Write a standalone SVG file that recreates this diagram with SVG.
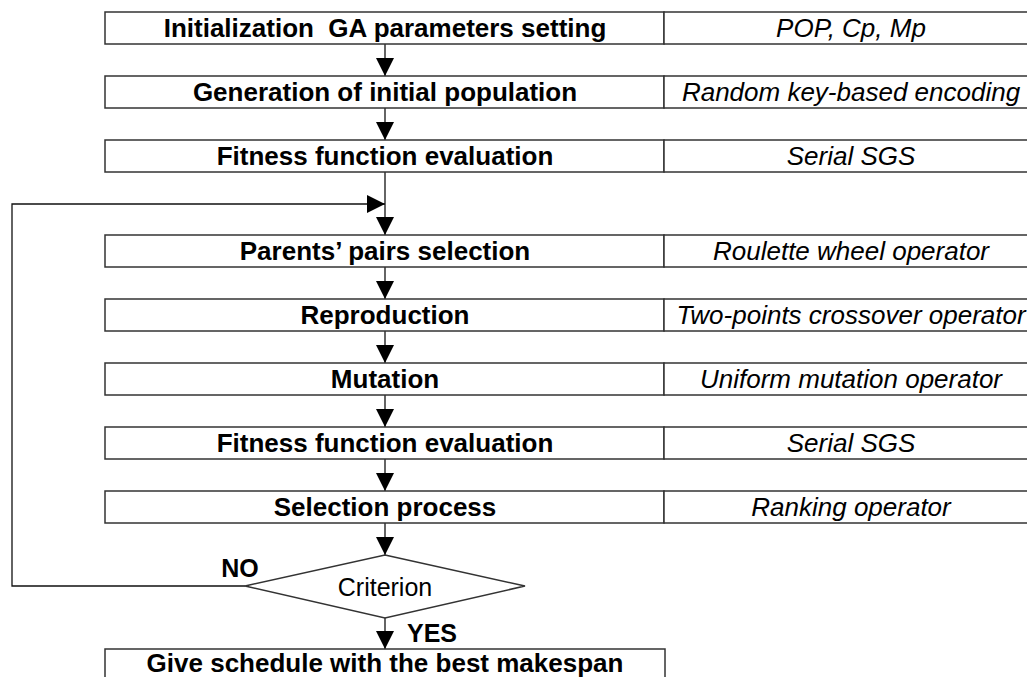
<svg xmlns="http://www.w3.org/2000/svg" width="1027" height="677" viewBox="0 0 1027 677">
<style>
.box{fill:#fff;stroke:#333;stroke-width:1.5}
.ln{fill:none;stroke:#111;stroke-width:1.3}
.b{font-family:"Liberation Sans",Arial,sans-serif;font-weight:bold;font-size:26px;fill:#000;text-anchor:middle}
.i{font-family:"Liberation Sans",Arial,sans-serif;font-style:italic;font-size:26px;fill:#000;text-anchor:middle}
.r{font-family:"Liberation Sans",Arial,sans-serif;font-size:25px;fill:#000;text-anchor:middle}
.lb{font-family:"Liberation Sans",Arial,sans-serif;font-weight:bold;font-size:25px;fill:#000;text-anchor:middle}
</style>
<defs>
<marker id="ah" viewBox="0 0 18 18" refX="18" refY="9" markerWidth="18" markerHeight="18" markerUnits="userSpaceOnUse" orient="auto">
<path d="M0,0 L18,9 L0,18 Z" fill="#000"/>
</marker>
</defs>
<rect width="1027" height="677" fill="#fff"/>
<g id="connectors">
<line class="ln" x1="385" y1="44" x2="385" y2="76" marker-end="url(#ah)"/>
<line class="ln" x1="385" y1="108" x2="385" y2="140" marker-end="url(#ah)"/>
<line class="ln" x1="385" y1="172" x2="385" y2="235" marker-end="url(#ah)"/>
<polyline class="ln" points="245,586 12,586 12,204 385,204" marker-end="url(#ah)"/>
<line class="ln" x1="385" y1="267" x2="385" y2="299" marker-end="url(#ah)"/>
<line class="ln" x1="385" y1="331" x2="385" y2="363" marker-end="url(#ah)"/>
<line class="ln" x1="385" y1="395" x2="385" y2="427" marker-end="url(#ah)"/>
<line class="ln" x1="385" y1="459" x2="385" y2="491" marker-end="url(#ah)"/>
<line class="ln" x1="385" y1="523" x2="385" y2="555" marker-end="url(#ah)"/>
<line class="ln" x1="385" y1="618" x2="385" y2="649" marker-end="url(#ah)"/>
</g>
<g id="n1"><rect class="box" x="105" y="12" width="559" height="32"/><rect class="box" x="664" y="12" width="380" height="32"/>
<text class="b" x="385" y="37" xml:space="preserve">Initialization  GA parameters setting</text><text class="i" x="851" y="37">POP, Cp, Mp</text></g>
<g id="n2"><rect class="box" x="105" y="76" width="559" height="32"/><rect class="box" x="664" y="76" width="380" height="32"/>
<text class="b" x="385" y="101">Generation of initial population</text><text class="i" x="851" y="101">Random key-based encoding</text></g>
<g id="n3"><rect class="box" x="105" y="140" width="559" height="32"/><rect class="box" x="664" y="140" width="380" height="32"/>
<text class="b" x="385" y="165">Fitness function evaluation</text><text class="i" x="851" y="165">Serial SGS</text></g>
<g id="n4"><rect class="box" x="105" y="235" width="559" height="32"/><rect class="box" x="664" y="235" width="380" height="32"/>
<text class="b" x="385" y="260">Parents’ pairs selection</text><text class="i" x="851" y="260">Roulette wheel operator</text></g>
<g id="n5"><rect class="box" x="105" y="299" width="559" height="32"/><rect class="box" x="664" y="299" width="380" height="32"/>
<text class="b" x="385" y="324">Reproduction</text><text class="i" x="851" y="324">Two-points crossover operator</text></g>
<g id="n6"><rect class="box" x="105" y="363" width="559" height="32"/><rect class="box" x="664" y="363" width="380" height="32"/>
<text class="b" x="385" y="388">Mutation</text><text class="i" x="851" y="388">Uniform mutation operator</text></g>
<g id="n7"><rect class="box" x="105" y="427" width="559" height="32"/><rect class="box" x="664" y="427" width="380" height="32"/>
<text class="b" x="385" y="452">Fitness function evaluation</text><text class="i" x="851" y="452">Serial SGS</text></g>
<g id="n8"><rect class="box" x="105" y="491" width="559" height="32"/><rect class="box" x="664" y="491" width="380" height="32"/>
<text class="b" x="385" y="516">Selection process</text><text class="i" x="851" y="516">Ranking operator</text></g>
<g id="n9"><polygon class="box" points="385,555 525,586 385,618 245,586"/>
<text class="r" x="385" y="596">Criterion</text></g>
<text class="lb" x="240" y="577">NO</text>
<text class="lb" x="432" y="642">YES</text>
<g id="n10"><rect class="box" x="105" y="649" width="560" height="34"/>
<text class="b" x="385" y="672">Give schedule with the best makespan</text></g>
</svg>
